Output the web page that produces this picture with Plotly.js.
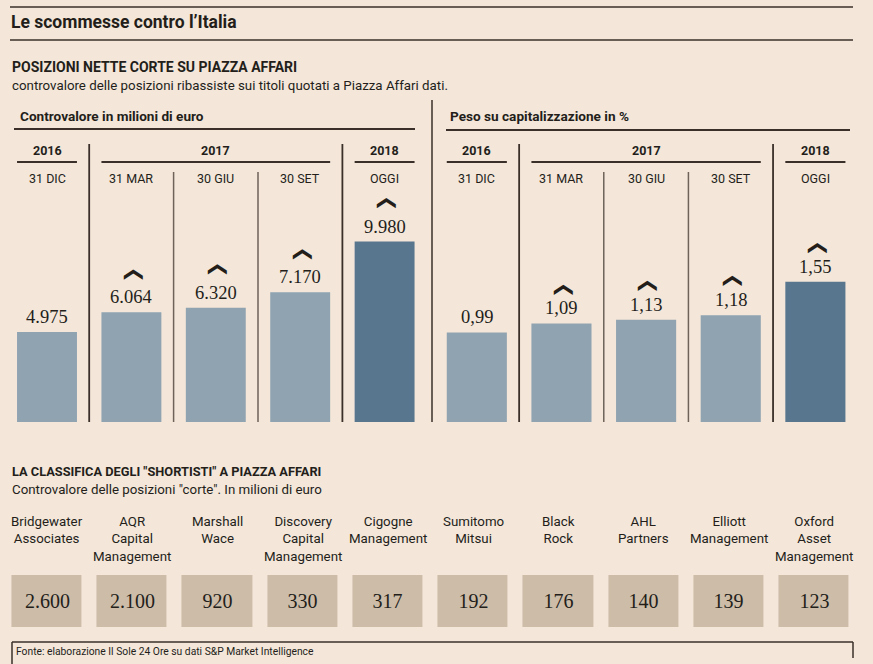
<!DOCTYPE html>
<html><head><meta charset="utf-8">
<script src="https://cdn.plot.ly/plotly-3.0.1.min.js"></script>
<style>html,body{margin:0;padding:0;background:#f4e6d9;}</style>
</head><body><div id="chart" style="width:873px;height:664px;"></div>
<script>
// ---- data ----
const dates = ['31 DIC','31 MAR','30 GIU','30 SET','OGGI'];
const years = ['2016','2017','2017','2017','2018'];
const valueMln = [4975, 6064, 6320, 7170, 9980];
const valuePct = [0.99, 1.09, 1.13, 1.18, 1.55];
const funds = ['Bridgewater<br>Associates','AQR<br>Capital<br>Management','Marshall<br>Wace','Discovery<br>Capital<br>Management','Cigogne<br>Management','Sumitomo<br>Mitsui','Black<br>Rock','AHL<br>Partners','Elliott<br>Management','Oxford<br>Asset<br>Management'];
const fundValues = [2600, 2100, 920, 330, 317, 192, 176, 140, 139, 123];

// ---- style ----
const W = 873, H = 664;
const BG = '#f4e6d9', TXT = '#231e1a', LINE = '#3a3029', THIN = '#6e6259';
const LIGHT = '#8fa3b0', DARK = '#58778f', BOX = '#cdbca8';
const SANS = 'Roboto, sans-serif';
const SERIF = '"Liberation Serif", serif';
const px = p => p / W;
const py = p => 1 - p / H;
const fmtInt = v => String(v).replace(/\B(?=(\d{3})+(?!\d))/g, '.');
const fmtPct = v => v.toFixed(2).replace('.', ',');

const annotations = [];
const shapes = [];
function txt(x, y, text, size, bold, extra) {
  annotations.push(Object.assign({
    xref: 'paper', yref: 'paper', x: px(x), y: py(y), xanchor: 'left', yanchor: 'middle',
    text: bold ? '<b>' + text + '</b>' : text, showarrow: false,
    font: { family: SANS, size: size, color: TXT }
  }, extra || {}));
}
function hline(x0, x1, y, w, c) {
  shapes.push({ type: 'line', xref: 'paper', yref: 'paper', x0: px(x0), x1: px(x1), y0: py(y), y1: py(y), line: { color: c || LINE, width: w || 1.5 } });
}
function vline(x, y0, y1, w, c) {
  shapes.push({ type: 'line', xref: 'paper', yref: 'paper', x0: px(x), x1: px(x), y0: py(y0), y1: py(y1), line: { color: c || LINE, width: w || 1.5 } });
}

// headings
hline(10, 853, 7, 1.6);
txt(9, 22, 'Le scommesse contro l’Italia', 17.5, true);
hline(10, 853, 40, 1.6);
txt(10, 67, 'POSIZIONI NETTE CORTE SU PIAZZA AFFARI', 14, true);
txt(10, 85, 'controvalore delle posizioni ribassiste sui titoli quotati a Piazza Affari dati.', 13.3, false);
vline(432, 100, 422, 1.5);
txt(18, 116, 'Controvalore in milioni di euro', 13.6, true);
hline(14, 415, 129, 2);
txt(448, 116, 'Peso su capitalizzazione in %', 13.6, true);
hline(446, 850, 130, 2);

const BW = 0.71;
function panel(xa, ya, values, fmt, chevShift) {
  const n = values.length;
  let start = 0;
  for (let i = 1; i <= n; i++) {
    if (i === n || years[i] !== years[start]) {
      const c = (start + i - 1) / 2;
      annotations.push({ xref: xa, yref: 'paper', x: c, y: py(151), text: '<b>' + years[start] + '</b>', showarrow: false, xanchor: 'center', yanchor: 'middle', font: { family: SANS, size: 12.5, color: TXT } });
      shapes.push({ type: 'line', xref: xa, yref: 'paper', x0: start - BW / 2, x1: i - 1 + BW / 2, y0: py(162), y1: py(162), line: { color: LINE, width: 2 } });
      if (i < n) shapes.push({ type: 'line', xref: xa, yref: 'paper', x0: i - 0.5, x1: i - 0.5, y0: py(144), y1: py(422), line: { color: LINE, width: 1.8 } });
      start = i;
    } else {
      shapes.push({ type: 'line', xref: xa, yref: 'paper', x0: i - 0.5, x1: i - 0.5, y0: py(172), y1: py(422), line: { color: THIN, width: 1.5 } });
    }
  }
  for (let i = 0; i < n; i++) {
    annotations.push({ xref: xa, yref: 'paper', x: i, y: py(178), text: dates[i], showarrow: false, xanchor: 'center', yanchor: 'middle', font: { family: SANS, size: 12.5, color: TXT } });
    annotations.push({ xref: xa, yref: ya, x: i, y: values[i], text: fmt(values[i]), showarrow: false, xanchor: 'center', yanchor: 'middle', yshift: 15, font: { family: SERIF, size: 18.5, color: TXT } });
    if (i > 0 && values[i] > values[i - 1]) {
      annotations.push({ xref: xa, yref: ya, x: i, y: values[i], text: '❯', textangle: -90, showarrow: false, xanchor: 'center', yanchor: 'middle', yshift: chevShift, font: { family: '"DejaVu Sans"', size: 19, color: TXT } });
    }
  }
}
panel('x', 'y', valueMln, fmtInt, 38);
panel('x2', 'y2', valuePct, fmtPct, 34);

// lower section
txt(10, 471, 'LA CLASSIFICA DEGLI "SHORTISTI" A PIAZZA AFFARI', 12.8, true);
txt(10, 489, 'Controvalore delle posizioni "corte". In milioni di euro', 13.3, false);
funds.forEach((f, i) => {
  annotations.push({ xref: 'x3', yref: 'paper', x: i, y: py(512), text: f, align: 'center', showarrow: false, xanchor: 'center', yanchor: 'top', font: { family: SANS, size: 13.3, color: TXT } });
});

// footer
hline(12, 853, 642, 1.5);
vline(12, 642, 664, 1.5);
vline(853, 642, 658, 1.5);
txt(14, 651, 'Fonte: elaborazione Il Sole 24 Ore su dati S&P Market Intelligence', 10.3, false);

const colors = valueMln.map((v, i) => i === valueMln.length - 1 ? DARK : LIGHT);
const traces = [
  { type: 'bar', x: dates, y: valueMln, xaxis: 'x', yaxis: 'y', width: BW, marker: { color: colors }, hoverinfo: 'skip' },
  { type: 'bar', x: dates, y: valuePct, xaxis: 'x2', yaxis: 'y2', width: BW, marker: { color: colors }, hoverinfo: 'skip' },
  { type: 'heatmap', x: funds, y: ['v'], z: [fundValues], xaxis: 'x3', yaxis: 'y3', xgap: 15, ygap: 0,
    colorscale: [[0, BOX], [1, BOX]], showscale: false, hoverinfo: 'skip',
    texttemplate: '%{z:,}', textfont: { family: SERIF, size: 20, color: TXT } }
];

const axNo = { visible: false, showgrid: false, zeroline: false, fixedrange: true };
const layout = {
  width: W, height: H, margin: { l: 0, r: 0, t: 0, b: 0 }, separators: ',.',
  paper_bgcolor: BG, plot_bgcolor: 'rgba(0,0,0,0)', showlegend: false,
  xaxis: Object.assign({ domain: [px(4.8), px(426.8)], range: [-0.5, 4.5], type: 'category', anchor: 'y' }, axNo),
  yaxis: Object.assign({ domain: [py(422), py(205)], range: [0, 12000], anchor: 'x' }, axNo),
  xaxis2: Object.assign({ domain: [px(434.5), px(857.7)], range: [-0.5, 4.5], type: 'category', anchor: 'y2' }, axNo),
  yaxis2: Object.assign({ domain: [py(422), py(205)], range: [0, 2.4], anchor: 'x2' }, axNo),
  xaxis3: Object.assign({ domain: [px(4.4), px(856.6)], range: [-0.5, 9.5], type: 'category', anchor: 'y3' }, axNo),
  yaxis3: Object.assign({ domain: [py(627), py(575)], range: [-0.5, 0.5], type: 'category', anchor: 'x3' }, axNo),
  annotations: annotations, shapes: shapes
};
Plotly.newPlot('chart', traces, layout, { displayModeBar: false, staticPlot: true });
</script></body></html>
